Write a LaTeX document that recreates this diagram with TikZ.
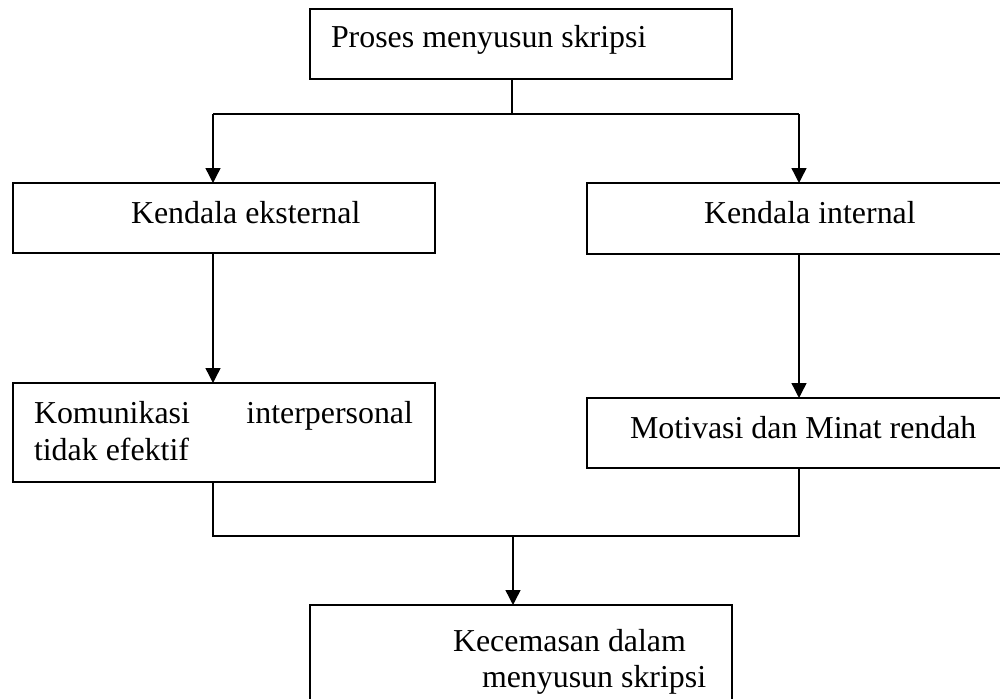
\documentclass[tikz,border=0pt]{standalone}
\usepackage{fontspec}
\setmainfont{Liberation Serif}
\usetikzlibrary{arrows.meta}
\begin{document}
\begin{tikzpicture}[x=1pt,y=-1pt,
  box/.style={draw, line width=1.5pt, rectangle, inner sep=0pt, outer sep=0pt,
              anchor=north west, minimum width=422pt},
  lbl/.style={anchor=base west, inner sep=0pt, outer sep=0pt,
              font=\fontsize{31.9}{36.5}\selectfont},
  link/.style={line width=1.4pt},
  arr/.style={link, -{Triangle[width=15pt,length=15pt]}}]
\useasboundingbox (0,0) rectangle (1000,698);
\clip (0,0) rectangle (1000,698);

% boxes
\node[box, minimum height=70pt]  (b1) at (310,9)   {};
\node[box, minimum height=70pt]  (b2) at (13,183)  {};
\node[box, minimum height=71pt]  (b3) at (587,183) {};
\node[box, minimum height=99pt]  (b4) at (13,383)  {};
\node[box, minimum height=70pt]  (b5) at (587,398) {};
\node[box, minimum height=115pt] (b6) at (310,605) {};

% labels
\node[lbl] (t1) at (331,48)  {Proses menyusun skripsi};
\node[lbl] (t2) at (131,223) {Kendala eksternal};
\node[lbl] (t3) at (704,223) {Kendala internal};
\node[lbl] (t4a) at (34,423) {\makebox[379pt][s]{Komunikasi interpersonal}};
\node[lbl] (t4b) at (34,460) {tidak efektif};
\node[lbl] (t5) at (630,438) {Motivasi dan Minat rendah};
\node[lbl] (t6a) at (453,651) {Kecemasan dalam};
\node[lbl] (t6b) at (482,687) {menyusun skripsi};

% junction points
\coordinate (split) at (512,114);
\coordinate (splitL) at (213,114);
\coordinate (splitR) at (799,114);
\coordinate (mergeL) at (213,536);
\coordinate (mergeR) at (799,536);
\coordinate (merge) at (513,536);

% connectors
\draw[link] (b1.south -| split) -- (split);
\draw[link] (splitL) -- (splitR);
\draw[arr] (splitL) -- (b2.north -| splitL);
\draw[arr] (splitR) -- (b3.north -| splitR);
\draw[arr] (b2.south -| splitL) -- (b4.north -| splitL);
\draw[arr] (b3.south -| splitR) -- (b5.north -| splitR);
\draw[link] (b4.south -| mergeL) -- (mergeL) -- (mergeR) -- (b5.south -| mergeR);
\draw[arr] (merge) -- (b6.north -| merge);
\end{tikzpicture}
\end{document}
